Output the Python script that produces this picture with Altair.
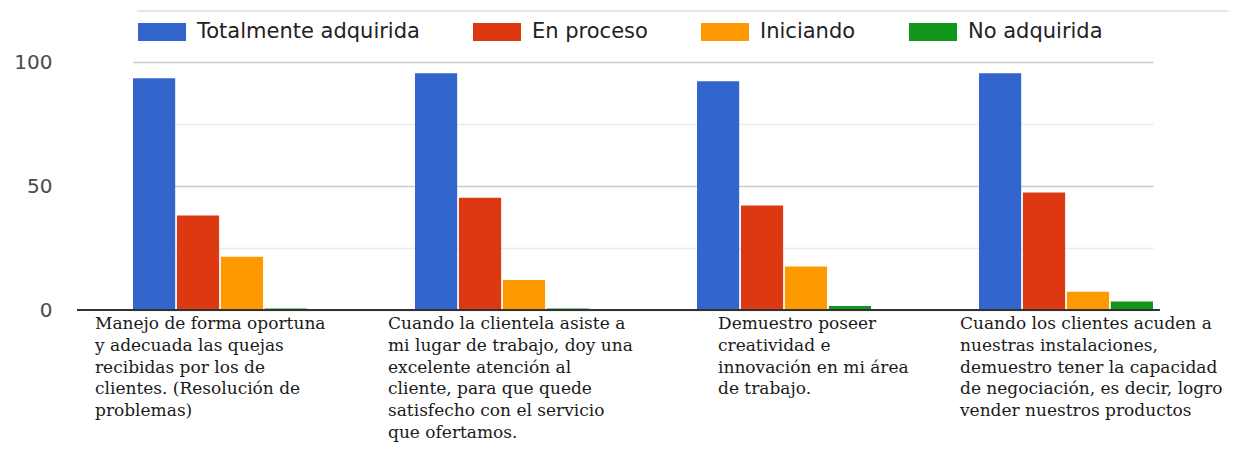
import altair as alt
import pandas as pd

categories = [
    "Manejo de forma oportuna y adecuada las quejas recibidas por los de clientes. (Resolución de problemas)",
    "Cuando la clientela asiste a mi lugar de trabajo, doy una excelente atención al cliente, para que quede satisfecho con el servicio que ofertamos.",
    "Demuestro poseer creatividad e innovación en mi área de trabajo.",
    "Cuando los clientes acuden a nuestras instalaciones, demuestro tener la capacidad de negociación, es decir, logro vender nuestros productos",
]
label_lines = [
    ["Manejo de forma oportuna", "y adecuada las quejas", "recibidas por los de", "clientes. (Resolución de", "problemas)"],
    ["Cuando la clientela asiste a", "mi lugar de trabajo, doy una", "excelente atención al", "cliente, para que quede", "satisfecho con el servicio", "que ofertamos."],
    ["Demuestro poseer", "creatividad e", "innovación en mi área", "de trabajo."],
    ["Cuando los clientes acuden a", "nuestras instalaciones,", "demuestro tener la capacidad", "de negociación, es decir, logro", "vender nuestros productos"],
]
series = ["Totalmente adquirida", "En proceso", "Iniciando", "No adquirida"]
totalmente = [93.4, 95.5, 92.2, 95.5]
en_proceso = [38.1, 45.3, 42.1, 47.4]
iniciando = [21.5, 12.1, 17.5, 7.4]
no_adquirida = [0.6, 0.6, 1.6, 3.4]
colors = ["#3366cc", "#dc3912", "#ff9900", "#109618"]
y_ticks = [0, 25, 50, 75, 100]

rows = []
for s, vals in zip(series, [totalmente, en_proceso, iniciando, no_adquirida]):
    for c, v in zip(categories, vals):
        rows.append({"cat": c, "serie": s, "valor": v})
df = pd.DataFrame(rows)
text_df = pd.DataFrame({"cat": categories, "texto": ["\n".join(l) for l in label_lines]})

W, H = 1083, 248

x_enc = alt.X("cat:N", sort=categories,
              scale=alt.Scale(range=[56, 1076], paddingInner=0.383, paddingOuter=0),
              axis=None)

bars = alt.Chart(df).mark_bar().encode(
    x=x_enc,
    xOffset=alt.XOffset("serie:N", sort=series, scale=alt.Scale(paddingInner=0.04, paddingOuter=0)),
    y=alt.Y("valor:Q", scale=alt.Scale(domain=[0, 100], nice=False),
            axis=alt.Axis(values=y_ticks, title=None, domain=False, ticks=False,
                          labelExpr="datum.value % 50 == 0 ? datum.label : ''",
                          labelPadding=25, labelFontSize=20, labelFont="DejaVu Sans",
                          labelColor="#4a4a4a",
                          gridColor={"condition": {"test": "datum.value % 50 == 0", "value": "#cccccc"},
                                     "value": "#ebebeb"},
                          gridWidth=1.5)),
    color=alt.Color("serie:N", sort=series, scale=alt.Scale(domain=series, range=colors),
                    legend=alt.Legend(title=None, orient="none", legendX=61, legendY=-54,
                                      direction="horizontal", columns=4, columnPadding=53,
                                      symbolType="M-1,-0.375H1V0.375H-1Z", symbolSize=2304,
                                      symbolStrokeWidth=0, symbolOpacity=1, labelOffset=11,
                                      labelFontSize=21, labelFont="DejaVu Sans",
                                      labelColor="#222222", labelLimit=0)),
)

zero = alt.Chart(df).mark_rule(color="#333333", strokeWidth=1.5).encode(y=alt.datum(0))

topline = alt.Chart(df).mark_rule(color="#e6e6e6", strokeWidth=1).encode(
    x=alt.value(60), x2=alt.value(1151), y=alt.value(-51))

dxs = [-125, -114, -66, -106]
texts = []
for c, d in zip(categories, dxs):
    texts.append(
        alt.Chart(text_df).transform_filter(alt.datum.cat == c).mark_text(
            align="left", baseline="top", lineBreak="\n", font="DejaVu Serif",
            fontSize=17, lineHeight=21.8, color="#1a1a1a", dx=d
        ).encode(x=alt.X("cat:N", sort=categories), y=alt.value(254), text="texto:N")
    )

chart = alt.layer(topline, bars, zero, *texts).properties(
    width=W, height=H,
    padding={"left": 69, "top": 54, "right": 79, "bottom": 132},
    autosize=alt.AutoSizeParams(type="none"),
).configure_view(stroke=None)

chart.save("out.html", embed_options={"renderer": "svg", "actions": False})
